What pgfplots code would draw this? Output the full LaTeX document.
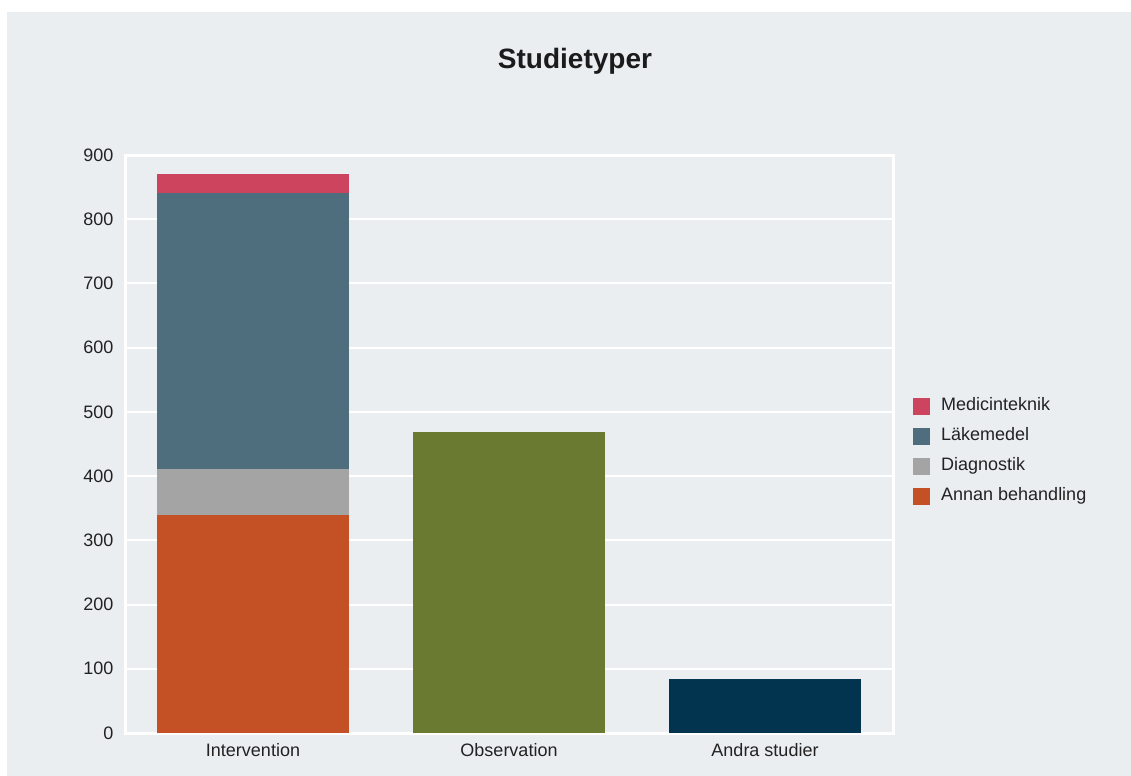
\documentclass[border=0pt]{standalone}
\usepackage{pgfplots}
\pgfplotsset{compat=1.18}
\usepackage{fontspec}
\setmainfont{Liberation Sans}
\definecolor{bg}{HTML}{EAEEF1}
\definecolor{cMed}{HTML}{CD445E}
\definecolor{cLak}{HTML}{4E6E7E}
\definecolor{cDia}{HTML}{A4A4A4}
\definecolor{cAnn}{HTML}{C45026}
\definecolor{cObs}{HTML}{6B7A31}
\definecolor{cAnd}{HTML}{02344F}
\definecolor{txt}{HTML}{222222}
\begin{document}
\begin{tikzpicture}
\fill[white] (0,0) rectangle (1131bp,-776bp);
\fill[bg] (7bp,-12bp) rectangle (1131bp,-776bp);
\node[font=\fontsize{28bp}{32bp}\selectfont\bfseries, text=txt!80!black] at (575bp,-61bp) {Studietyper};
\begin{axis}[
  at={(125bp,-733bp)}, anchor=south west,
  width=768bp, height=578bp, scale only axis,
  xmin=-0.5, xmax=2.5, ymin=0, ymax=900,
  ytick={0,100,...,900},
  xtick={0,1,2},
  xticklabels={Intervention,Observation,Andra studier},
  ybar stacked, bar width=192bp,
  axis line style={white, line width=3bp},
  ymajorgrids, grid style={white, line width=2bp},
  major tick length=0pt,
  tick label style={font=\fontsize{18bp}{20bp}\selectfont, text=txt},
  /pgf/number format/assume math mode=true,
  yticklabel style={xshift=-8bp},
  xticklabel style={yshift=-7bp},
  legend style={draw=none, fill=none, inner sep=0pt, row sep=13bp,
    at={(1.026,0.580)}, anchor=north west,
    font=\fontsize{18bp}{20bp}\selectfont, text=txt,
    nodes={inner sep=0pt, anchor=west, text height=13bp, text depth=4bp}},
  legend image code/.code={\fill[#1] (0bp,-8.5bp) rectangle (17bp,8.5bp); \path (28bp,0);},
  reverse legend,
]
\addplot[fill=cObs, draw=none, forget plot] coordinates {(0,0) (1,469) (2,0)};
\addplot[fill=cAnd, draw=none, forget plot] coordinates {(0,0) (1,0) (2,84)};
\addplot[fill=cAnn, draw=none] coordinates {(0,340) (1,0) (2,0)};
\addlegendentry{Annan behandling}
\addplot[fill=cDia, draw=none] coordinates {(0,71) (1,0) (2,0)};
\addlegendentry{Diagnostik}
\addplot[fill=cLak, draw=none] coordinates {(0,430) (1,0) (2,0)};
\addlegendentry{Läkemedel}
\addplot[fill=cMed, draw=none] coordinates {(0,30) (1,0) (2,0)};
\addlegendentry{Medicinteknik}
\end{axis}
\end{tikzpicture}
\end{document}
